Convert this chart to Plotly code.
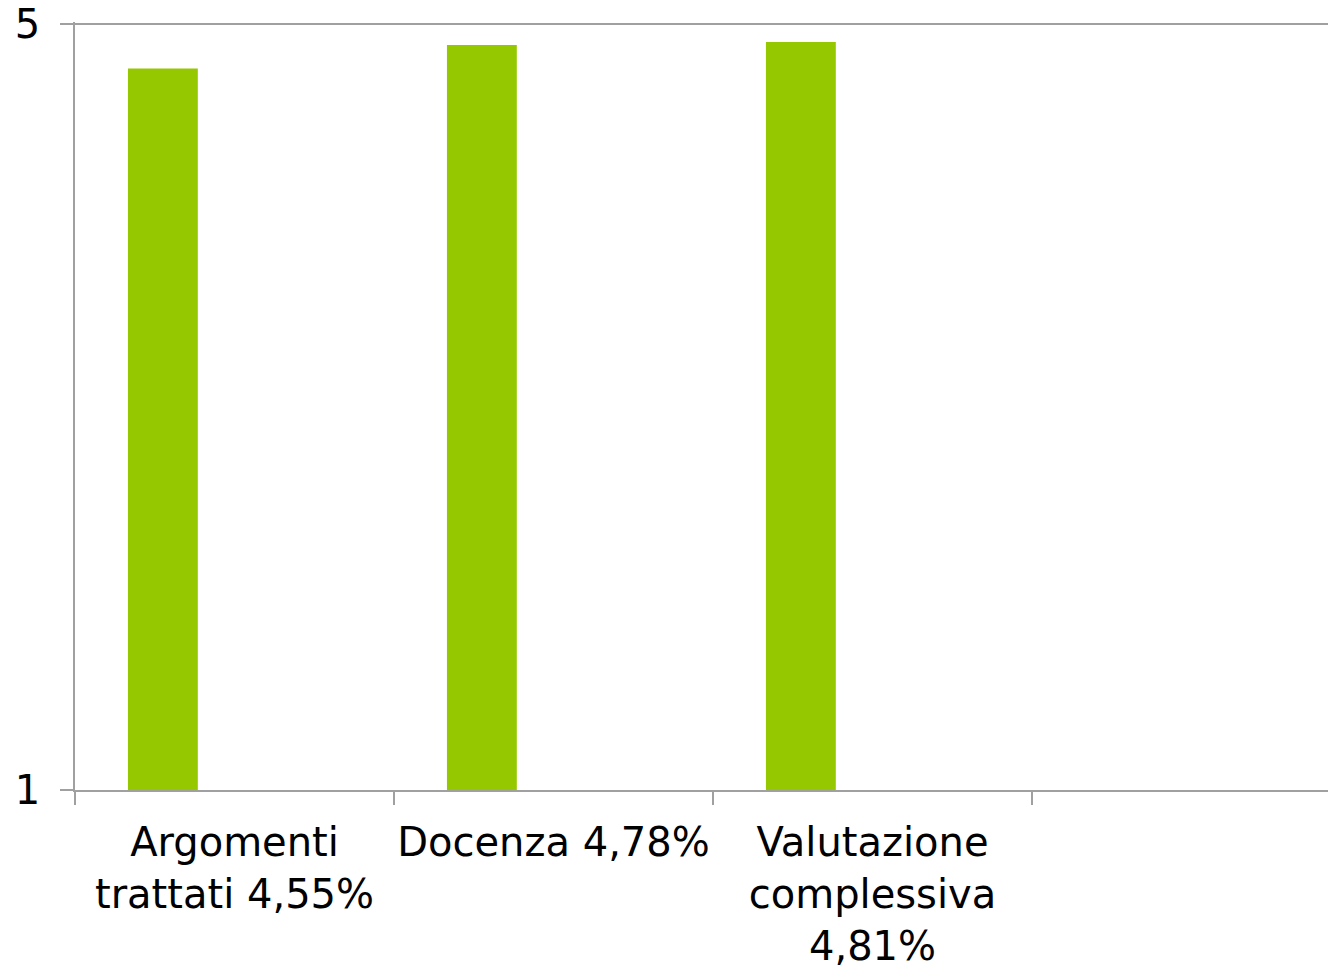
import plotly.graph_objects as go

categories = ["Argomenti<br>trattati 4,55%", "Docenza 4,78%", "Valutazione<br>complessiva<br>4,81%", " "]
values = [4.55, 4.78, 4.81, None]

FONT = "DejaVu Sans"
LINE = "#a0a0a0"

fig = go.Figure()
fig.add_trace(go.Bar(
    x=categories, y=values,
    marker=dict(color="#96c800", line=dict(width=0)),
    offset=-0.334, width=0.219,
))

fig.update_layout(
    width=1328, height=962,
    margin=dict(l=67, r=0, t=14, b=180),
    paper_bgcolor="white", plot_bgcolor="white",
    showlegend=False,
    font=dict(family=FONT, size=40, color="black"),
    xaxis=dict(
        type="category",
        range=[-0.5, 3.453],
        tickson="boundaries",
        ticks="outside", ticklen=13, tickcolor=LINE, tickwidth=1.5,
        showline=True, linecolor=LINE, linewidth=1.5,
        showgrid=False,
        tickangle=0,
        automargin=False,
        tickfont=dict(family=FONT, size=40, color="black"),
        ticklabelstandoff=16,
    ),
    yaxis=dict(
        type="log",
        range=[0, 0.7005],
        tickvals=[1, 5], ticktext=["1", "5"],
        ticks="outside", ticklen=13, tickcolor=LINE, tickwidth=1.5,
        showline=True, linecolor=LINE, linewidth=1.5,
        showgrid=True, gridcolor=LINE, gridwidth=1.5,
        zeroline=False,
        automargin=False,
        ticklabeloverflow="allow",
        tickfont=dict(family=FONT, size=40, color="black"),
        ticklabelstandoff=12,
    ),
)

fig.write_html("out.html")
